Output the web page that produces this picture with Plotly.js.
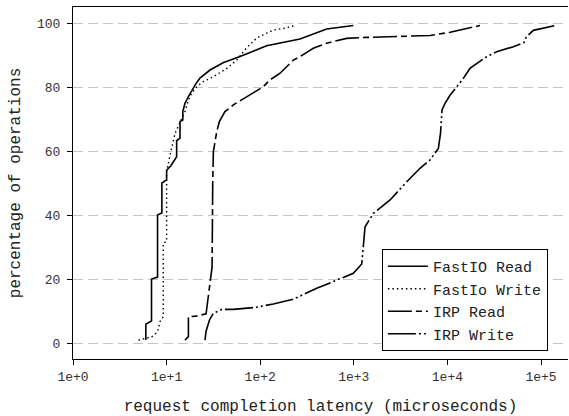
<!DOCTYPE html>
<html>
<head>
<meta charset="utf-8">
<script src="https://cdn.plot.ly/plotly-3.0.1.min.js"></script>
<style>html,body{margin:0;padding:0;background:#fff;}#chart{width:569px;height:416px;}</style>
</head>
<body>
<div id="chart"></div>
<script>
var seriesNames = ["FastIO Read", "FastIo Write", "IRP Read", "IRP Write"];
var xTickVals = [1, 10, 100, 1000, 10000, 100000];
var xTickText = ["1e+0", "1e+1", "1e+2", "1e+3", "1e+4", "1e+5"];
var yTickVals = [0, 20, 40, 60, 80, 100];

var fastioReadX = [6.0, 6.0, 6.9, 6.9, 8.0, 8.0, 8.9, 8.9, 10.0, 10.0, 11.1, 12.8, 12.8, 13.9, 13.9, 14.9, 14.9, 15.7, 17.1, 18.5, 20.1, 22.7, 29.1, 40.1, 60.8, 117, 266, 513, 988];
var fastioReadY = [0.9, 5.9, 6.9, 20.0, 20.6, 40.0, 40.6, 50.0, 51.0, 54.0, 55.4, 58.2, 63.2, 64.0, 69.2, 69.7, 72.3, 74.9, 77.0, 79.0, 80.6, 82.8, 85.3, 87.6, 89.5, 92.9, 95.0, 98.1, 99.2];

var fastioWriteX = [5.0, 7.0, 8.0, 8.5, 9.2, 9.2, 10.0, 10.0, 10.9, 11.8, 12.3, 15.7, 17.1, 18.5, 21, 24.7, 31.5, 43.9, 56.1, 71.8, 91.8, 117, 138, 177, 235];
var fastioWriteY = [0.9, 2.0, 3.5, 6.7, 8.2, 31.2, 31.7, 53.5, 58.8, 64.0, 65.5, 72.3, 75.9, 78.0, 80.1, 81.7, 83.2, 85.8, 88.4, 92.3, 95.3, 96.8, 97.8, 98.3, 99.2];

var irpReadX = [15.7, 17.1, 17.1, 20.6, 26.4, 27.2, 28.6, 29.6, 30.6, 31.1, 31.6, 32.9, 34.3, 36.6, 42, 51.6, 71.8, 84.4, 108, 127, 163, 226, 266, 369, 513, 839, 1370, 6520, 10700, 22300];
var irpReadY = [0.9, 2.0, 8.2, 8.4, 9.1, 12.4, 16.6, 19.7, 23.8, 50.4, 59.8, 62.9, 66.0, 69.2, 72.3, 74.4, 77.0, 78.0, 80.1, 82.2, 84.3, 88.4, 89.5, 92.1, 93.7, 95.2, 95.5, 96.1, 97.1, 99.2];

var irpWriteX = [25.7, 26.4, 28.7, 31.6, 39.1, 51.6, 88, 138, 226, 402, 773, 988, 1215, 1254, 1318, 1616, 2440, 3675, 5095, 6520, 8000, 8440, 8750, 9420, 10700, 12600, 14800, 17400, 26300, 33600, 50600, 65800, 69600, 82800, 115000, 141000];
var irpWriteY = [0.9, 3.7, 7.2, 9.3, 10.5, 10.5, 11.1, 12.2, 13.7, 17.1, 20.5, 21.8, 24.7, 29.1, 36.3, 40.5, 44.7, 50.4, 54.6, 57.2, 60.8, 65.6, 72.8, 74.9, 77.5, 80.1, 82.7, 85.8, 89.5, 91.0, 92.6, 93.9, 95.7, 97.7, 98.6, 99.2];

var mono = "Liberation Mono, Courier New, monospace";

var traces = [
  {x: fastioReadX, y: fastioReadY, name: seriesNames[0], mode: "lines", line: {color: "#000", width: 1.6, dash: "solid"}},
  {x: fastioWriteX, y: fastioWriteY, name: seriesNames[1], mode: "lines", line: {color: "#000", width: 1.4, dash: "1.5px,3px"}},
  {x: irpReadX, y: irpReadY, name: seriesNames[2], mode: "lines", line: {color: "#000", width: 1.6, dash: "24px,4px,6px,4px"}},
  {x: irpWriteX, y: irpWriteY, name: seriesNames[3], mode: "lines", line: {color: "#000", width: 1.6, dash: "28px,3px,2px,3px,2px,3px"}}
];

var layout = {
  width: 569, height: 416,
  margin: {l: 73, r: 1, t: 7, b: 57},
  paper_bgcolor: "#fff", plot_bgcolor: "#fff",
  font: {family: mono, color: "#222"},
  showlegend: true,
  legend: {
    x: 0.624, y: 0.3125, xanchor: "left", yanchor: "top",
    bgcolor: "#fff", bordercolor: "#000", borderwidth: 1,
    font: {family: mono, size: 15, color: "#222"},
    itemwidth: 40,
    entrywidth: 185,
    tracegroupgap: 0
  },
  xaxis: {
    type: "log", range: [0, 5.288],
    tickvals: xTickVals, ticktext: xTickText,
    ticks: "outside", ticklen: 5, tickcolor: "#000", tickwidth: 1,
    showline: true, linecolor: "#000", linewidth: 1, mirror: true,
    showgrid: false, zeroline: false,
    tickfont: {family: mono, size: 13, color: "#333"},
    title: {text: "request completion latency (microseconds)", font: {family: mono, size: 16, color: "#222"}, standoff: 18}
  },
  yaxis: {
    range: [-5, 105],
    tickvals: yTickVals,
    ticks: "outside", ticklen: 5, tickcolor: "#000", tickwidth: 1,
    showline: true, linecolor: "#000", linewidth: 1,
    showgrid: true, gridcolor: "#c4c4c4", gridwidth: 1, griddash: "10px,5px",
    zeroline: false, ticklabelstandoff: 4,
    tickfont: {family: mono, size: 13, color: "#333"},
    title: {text: "percentage of operations", font: {family: mono, size: 16, color: "#222"}, standoff: 12}
  }
};

Plotly.newPlot("chart", traces, layout, {staticPlot: true, displayModeBar: false});
</script>
</body>
</html>
